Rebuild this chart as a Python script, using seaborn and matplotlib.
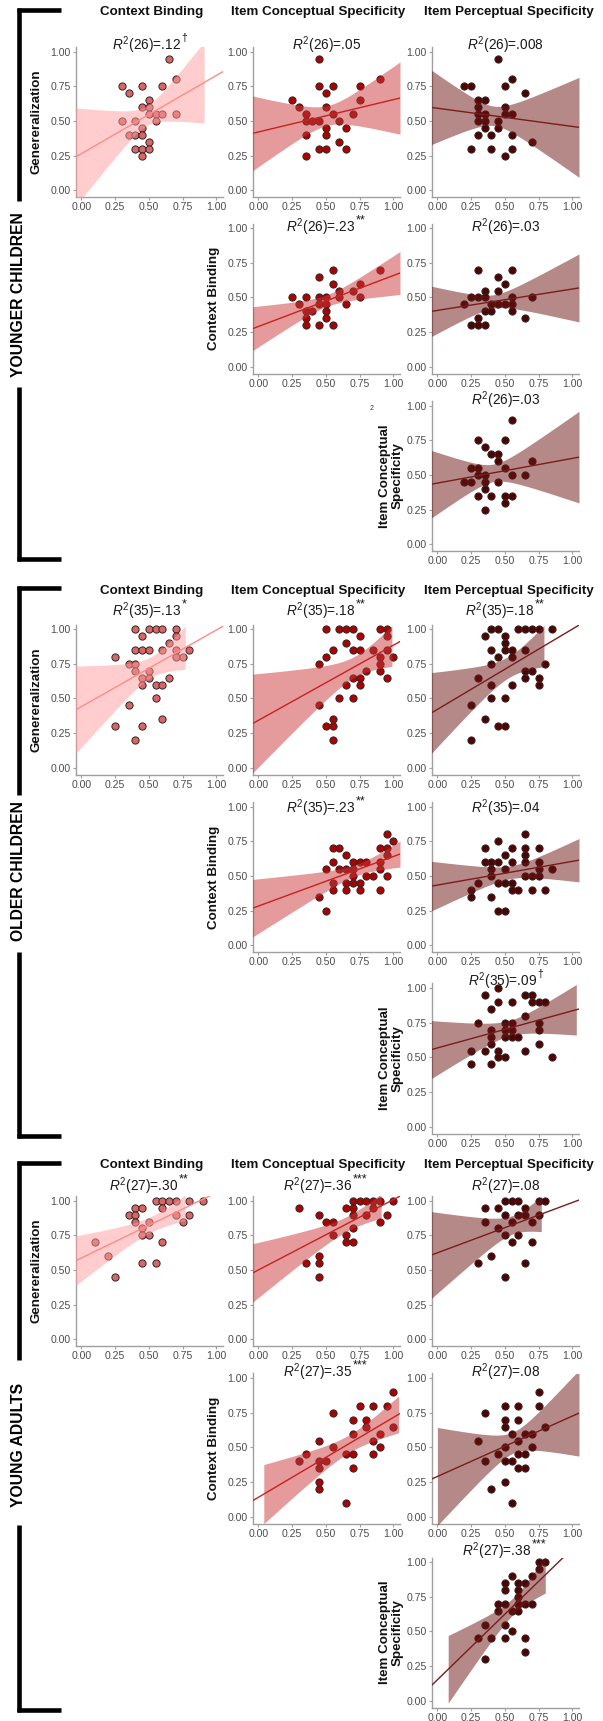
import numpy as np
import matplotlib
matplotlib.use("Agg")
import matplotlib.pyplot as plt
import seaborn as sns

# ---- data ----
# Younger children
yc_r1c1_x = [0.65, 0.30, 0.35, 0.70, 0.45, 0.60, 0.50, 0.45, 0.50, 0.50, 0.55, 0.60, 0.70, 0.30, 0.40, 0.55, 0.45, 0.35, 0.40, 0.45, 0.50, 0.40, 0.45, 0.50, 0.45]
yc_r1c1_y = [0.95, 0.75, 0.70, 0.80, 0.75, 0.75, 0.65, 0.60, 0.60, 0.55, 0.55, 0.55, 0.55, 0.50, 0.50, 0.50, 0.45, 0.40, 0.40, 0.40, 0.35, 0.30, 0.30, 0.30, 0.25]
yc_r1c2_x = [0.45, 0.90, 0.45, 0.55, 0.75, 0.50, 0.75, 0.25, 0.30, 0.50, 0.35, 0.55, 0.70, 0.35, 0.40, 0.45, 0.60, 0.50, 0.65, 0.35, 0.50, 0.60, 0.45, 0.50, 0.65, 0.35]
yc_r1c2_y = [0.95, 0.80, 0.75, 0.75, 0.75, 0.70, 0.65, 0.65, 0.60, 0.60, 0.55, 0.55, 0.55, 0.50, 0.50, 0.50, 0.50, 0.45, 0.45, 0.40, 0.40, 0.35, 0.30, 0.30, 0.30, 0.25]
yc_r1c3_x = [0.45, 0.55, 0.20, 0.25, 0.50, 0.65, 0.35, 0.30, 0.30, 0.50, 0.30, 0.35, 0.50, 0.55, 0.30, 0.35, 0.45, 0.35, 0.45, 0.30, 0.40, 0.55, 0.70, 0.25, 0.40, 0.55, 0.50]
yc_r1c3_y = [0.95, 0.80, 0.75, 0.75, 0.75, 0.70, 0.65, 0.65, 0.60, 0.60, 0.55, 0.55, 0.55, 0.55, 0.50, 0.50, 0.50, 0.45, 0.45, 0.40, 0.40, 0.40, 0.35, 0.30, 0.30, 0.30, 0.25]
yc_r2c2_x = [0.55, 0.90, 0.45, 0.55, 0.75, 0.60, 0.70, 0.25, 0.35, 0.45, 0.50, 0.60, 0.75, 0.30, 0.45, 0.50, 0.65, 0.35, 0.40, 0.50, 0.35, 0.50, 0.35, 0.45, 0.55]
yc_r2c2_y = [0.70, 0.70, 0.65, 0.60, 0.60, 0.55, 0.55, 0.50, 0.50, 0.50, 0.50, 0.50, 0.50, 0.45, 0.45, 0.45, 0.45, 0.40, 0.40, 0.40, 0.35, 0.35, 0.30, 0.30, 0.30]
yc_r2c3_x = [0.30, 0.55, 0.45, 0.50, 0.35, 0.45, 0.25, 0.30, 0.35, 0.55, 0.70, 0.20, 0.40, 0.45, 0.50, 0.55, 0.35, 0.40, 0.55, 0.30, 0.65, 0.25, 0.30, 0.35]
yc_r2c3_y = [0.70, 0.70, 0.65, 0.60, 0.55, 0.55, 0.50, 0.50, 0.50, 0.50, 0.50, 0.45, 0.45, 0.45, 0.45, 0.45, 0.40, 0.40, 0.40, 0.35, 0.35, 0.30, 0.30, 0.30]
yc_r3c3_x = [0.55, 0.30, 0.50, 0.35, 0.40, 0.45, 0.45, 0.70, 0.25, 0.30, 0.50, 0.30, 0.35, 0.55, 0.65, 0.20, 0.25, 0.35, 0.45, 0.35, 0.30, 0.40, 0.50, 0.55, 0.50, 0.35]
yc_r3c3_y = [0.90, 0.75, 0.75, 0.70, 0.65, 0.65, 0.60, 0.60, 0.55, 0.55, 0.55, 0.50, 0.50, 0.50, 0.50, 0.45, 0.45, 0.45, 0.45, 0.40, 0.35, 0.35, 0.35, 0.35, 0.30, 0.25]

# Older children
oc_r1c1_x = [0.40, 0.50, 0.55, 0.60, 0.70, 0.45, 0.70, 0.65, 0.40, 0.45, 0.50, 0.60, 0.70, 0.80, 0.25, 0.70, 0.75, 0.35, 0.40, 0.40, 0.50, 0.45, 0.50, 0.65, 0.45, 0.55, 0.60, 0.55, 0.35, 0.60, 0.25, 0.45, 0.40]
oc_r1c1_y = [1.00, 1.00, 1.00, 1.00, 1.00, 0.95, 0.95, 0.90, 0.85, 0.85, 0.85, 0.85, 0.85, 0.85, 0.80, 0.80, 0.80, 0.75, 0.75, 0.70, 0.70, 0.65, 0.65, 0.65, 0.60, 0.60, 0.60, 0.50, 0.45, 0.35, 0.30, 0.30, 0.20]
oc_r1c2_x = [0.50, 0.60, 0.65, 0.70, 0.90, 0.95, 0.95, 0.75, 0.65, 0.55, 0.70, 0.75, 0.85, 0.95, 0.50, 0.90, 1.00, 0.45, 0.90, 0.90, 0.80, 0.70, 0.75, 0.95, 0.65, 0.75, 0.60, 0.70, 0.45, 0.55, 0.50, 0.55, 0.55]
oc_r1c2_y = [1.00, 1.00, 1.00, 1.00, 1.00, 1.00, 0.95, 0.95, 0.90, 0.85, 0.85, 0.85, 0.85, 0.85, 0.80, 0.80, 0.80, 0.75, 0.75, 0.70, 0.70, 0.65, 0.65, 0.65, 0.60, 0.60, 0.50, 0.50, 0.45, 0.35, 0.30, 0.30, 0.20]
oc_r1c3_x = [0.40, 0.45, 0.60, 0.65, 0.70, 0.75, 0.85, 0.35, 0.50, 0.50, 0.40, 0.50, 0.55, 0.65, 0.45, 0.55, 0.40, 0.80, 0.65, 0.70, 0.30, 0.65, 0.75, 0.40, 0.55, 0.75, 0.40, 0.50, 0.25, 0.35, 0.45, 0.50, 0.25]
oc_r1c3_y = [1.00, 1.00, 1.00, 1.00, 1.00, 1.00, 1.00, 0.95, 0.95, 0.90, 0.85, 0.85, 0.85, 0.85, 0.80, 0.80, 0.75, 0.75, 0.70, 0.70, 0.65, 0.65, 0.65, 0.60, 0.60, 0.60, 0.50, 0.50, 0.45, 0.35, 0.30, 0.30, 0.20]
oc_r2c2_x = [0.95, 1.00, 0.55, 0.60, 0.90, 0.95, 0.65, 0.95, 0.55, 0.70, 0.75, 0.80, 0.90, 0.50, 0.60, 0.65, 0.70, 0.90, 0.70, 0.80, 0.85, 0.95, 0.55, 0.65, 0.70, 0.75, 0.55, 0.65, 0.75, 0.90, 0.45, 0.50]
oc_r2c2_y = [0.80, 0.75, 0.70, 0.70, 0.70, 0.70, 0.65, 0.65, 0.60, 0.60, 0.60, 0.60, 0.60, 0.55, 0.55, 0.55, 0.55, 0.55, 0.50, 0.50, 0.50, 0.50, 0.45, 0.45, 0.45, 0.45, 0.40, 0.40, 0.40, 0.40, 0.35, 0.25]
oc_r2c3_x = [0.65, 0.45, 0.35, 0.55, 0.65, 0.75, 0.50, 0.65, 0.35, 0.40, 0.45, 0.55, 0.65, 0.75, 0.40, 0.50, 0.75, 0.85, 0.40, 0.65, 0.70, 0.75, 0.30, 0.45, 0.50, 0.55, 0.25, 0.55, 0.60, 0.70, 0.80, 0.25, 0.40, 0.45, 0.50]
oc_r2c3_y = [0.80, 0.75, 0.70, 0.70, 0.70, 0.70, 0.65, 0.65, 0.60, 0.60, 0.60, 0.60, 0.60, 0.60, 0.55, 0.55, 0.55, 0.55, 0.50, 0.50, 0.50, 0.50, 0.45, 0.45, 0.45, 0.45, 0.40, 0.40, 0.40, 0.40, 0.40, 0.35, 0.35, 0.25, 0.25]
oc_r3c3_x = [0.45, 0.35, 0.65, 0.70, 0.45, 0.55, 0.70, 0.75, 0.80, 0.40, 0.65, 0.30, 0.50, 0.55, 0.75, 0.40, 0.50, 0.55, 0.75, 0.40, 0.50, 0.55, 0.60, 0.40, 0.75, 0.25, 0.35, 0.45, 0.65, 0.45, 0.50, 0.85, 0.25, 0.40]
oc_r3c3_y = [1.00, 0.95, 0.95, 0.95, 0.90, 0.90, 0.90, 0.90, 0.90, 0.85, 0.80, 0.75, 0.75, 0.75, 0.75, 0.70, 0.70, 0.70, 0.70, 0.65, 0.65, 0.65, 0.65, 0.60, 0.60, 0.55, 0.55, 0.55, 0.55, 0.50, 0.50, 0.50, 0.45, 0.45]

# Young adults
ya_r1c1_x = [0.90, 0.80, 0.55, 0.60, 0.65, 0.70, 0.40, 0.45, 0.60, 0.35, 0.40, 0.70, 0.80, 0.40, 0.50, 0.75, 0.45, 0.45, 0.50, 0.10, 0.60, 0.20, 0.45, 0.55, 0.25]
ya_r1c1_y = [1.00, 1.00, 1.00, 1.00, 1.00, 1.00, 0.95, 0.95, 0.95, 0.90, 0.90, 0.90, 0.90, 0.85, 0.85, 0.85, 0.80, 0.75, 0.75, 0.70, 0.70, 0.60, 0.55, 0.55, 0.45]
ya_r1c2_x = [1.00, 0.70, 0.75, 0.80, 0.85, 0.90, 0.30, 0.65, 0.70, 0.85, 0.45, 0.70, 0.80, 0.95, 0.50, 0.55, 0.90, 0.70, 0.55, 0.65, 0.65, 0.70, 0.45, 0.35, 0.45, 0.45]
ya_r1c2_y = [1.00, 1.00, 1.00, 1.00, 1.00, 1.00, 0.95, 0.95, 0.95, 0.95, 0.90, 0.90, 0.90, 0.90, 0.85, 0.85, 0.85, 0.80, 0.75, 0.75, 0.70, 0.70, 0.60, 0.55, 0.55, 0.45]
ya_r1c3_x = [0.50, 0.55, 0.60, 0.75, 0.80, 0.35, 0.45, 0.65, 0.50, 0.60, 0.65, 0.75, 0.35, 0.55, 0.70, 0.45, 0.50, 0.60, 0.55, 0.70, 0.40, 0.30, 0.65, 0.50]
ya_r1c3_y = [1.00, 1.00, 1.00, 1.00, 1.00, 0.95, 0.95, 0.95, 0.90, 0.90, 0.90, 0.90, 0.85, 0.85, 0.85, 0.80, 0.75, 0.75, 0.70, 0.70, 0.60, 0.55, 0.55, 0.45]
ya_r2c2_x = [1.00, 0.75, 0.85, 0.95, 0.55, 0.70, 0.80, 0.80, 1.00, 0.70, 0.90, 0.45, 0.85, 0.55, 0.90, 0.35, 0.65, 0.70, 0.85, 0.30, 0.45, 0.50, 0.45, 0.70, 0.45, 0.45, 0.65]
ya_r2c2_y = [0.90, 0.80, 0.80, 0.80, 0.75, 0.70, 0.70, 0.65, 0.65, 0.60, 0.60, 0.55, 0.55, 0.50, 0.50, 0.45, 0.45, 0.45, 0.45, 0.40, 0.40, 0.40, 0.35, 0.35, 0.25, 0.20, 0.10]
ya_r2c3_x = [0.75, 0.50, 0.60, 0.75, 0.35, 0.50, 0.60, 0.50, 0.80, 0.55, 0.65, 0.70, 0.30, 0.60, 0.50, 0.70, 0.45, 0.60, 0.65, 0.35, 0.50, 0.55, 0.60, 0.65, 0.50, 0.40, 0.55]
ya_r2c3_y = [0.90, 0.80, 0.80, 0.80, 0.75, 0.70, 0.70, 0.65, 0.65, 0.60, 0.60, 0.60, 0.55, 0.55, 0.50, 0.50, 0.45, 0.45, 0.45, 0.40, 0.40, 0.40, 0.35, 0.35, 0.25, 0.20, 0.10]
ya_r3c3_x = [0.75, 0.80, 0.75, 0.70, 0.55, 0.50, 0.60, 0.65, 0.50, 0.60, 0.60, 0.45, 0.50, 0.60, 0.65, 0.70, 0.45, 0.55, 0.60, 0.35, 0.50, 0.55, 0.30, 0.40, 0.50, 0.65, 0.65, 0.35]
ya_r3c3_y = [1.00, 1.00, 0.95, 0.90, 0.90, 0.85, 0.85, 0.85, 0.80, 0.80, 0.75, 0.70, 0.70, 0.70, 0.70, 0.70, 0.65, 0.65, 0.65, 0.55, 0.55, 0.50, 0.45, 0.45, 0.45, 0.45, 0.35, 0.30]

groups = ["YOUNGER CHILDREN", "OLDER CHILDREN", "YOUNG ADULTS"]
col_titles = ["Context Binding", "Item Conceptual Specificity", "Item Perceptual Specificity"]
row_labels = ["Genereralization", "Context Binding", "Item Conceptual\nSpecificity"]

# (group, row, col, x, y, df, R2, stars, band x-range)
panels = [
    (0, 0, 0, yc_r1c1_x, yc_r1c1_y, 26, ".12", "\u2020", (-0.05, 0.91)),
    (0, 0, 1, yc_r1c2_x, yc_r1c2_y, 26, ".05", "", (-0.05, 1.05)),
    (0, 0, 2, yc_r1c3_x, yc_r1c3_y, 26, ".008", "", (-0.05, 1.05)),
    (0, 1, 1, yc_r2c2_x, yc_r2c2_y, 26, ".23", "**", (-0.05, 1.05)),
    (0, 1, 2, yc_r2c3_x, yc_r2c3_y, 26, ".03", "", (-0.05, 1.05)),
    (0, 2, 2, yc_r3c3_x, yc_r3c3_y, 26, ".03", "", (-0.05, 1.05)),
    (1, 0, 0, oc_r1c1_x, oc_r1c1_y, 35, ".13", "*", (-0.05, 0.77)),
    (1, 0, 1, oc_r1c2_x, oc_r1c2_y, 35, ".18", "**", (-0.05, 0.99)),
    (1, 0, 2, oc_r1c3_x, oc_r1c3_y, 35, ".18", "**", (-0.05, 0.79)),
    (1, 1, 1, oc_r2c2_x, oc_r2c2_y, 35, ".23", "**", (-0.05, 1.05)),
    (1, 1, 2, oc_r2c3_x, oc_r2c3_y, 35, ".04", "", (-0.05, 1.05)),
    (1, 2, 2, oc_r3c3_x, oc_r3c3_y, 35, ".09", "\u2020", (-0.05, 1.03)),
    (2, 0, 0, ya_r1c1_x, ya_r1c1_y, 27, ".30", "**", (-0.05, 0.77)),
    (2, 0, 1, ya_r1c2_x, ya_r1c2_y, 27, ".36", "***", (-0.05, 0.91)),
    (2, 0, 2, ya_r1c3_x, ya_r1c3_y, 27, ".08", "", (-0.05, 0.77)),
    (2, 1, 1, ya_r2c2_x, ya_r2c2_y, 27, ".35", "***", (0.04, 1.04)),
    (2, 1, 2, ya_r2c3_x, ya_r2c3_y, 27, ".08", "", (0.0, 1.05)),
    (2, 2, 2, ya_r3c3_x, ya_r3c3_y, 27, ".38", "***", (0.08, 0.80)),
]

# point fill, line, band colour per x-variable column
COLORS = [("#DD6464", "#FF8A8A", "#FF9C9C"),
          ("#AE0000", "#CC2020", "#CC3838"),
          ("#520000", "#7A1C1C", "#6E1414")]

sns.set_style("white")
plt.rcParams['font.family'] = ['Liberation Sans', 'DejaVu Sans']
plt.rcParams['mathtext.fontset'] = 'custom'
plt.rcParams['mathtext.rm'] = 'Liberation Sans'
plt.rcParams['mathtext.it'] = 'Liberation Sans:italic'
plt.rcParams['mathtext.bf'] = 'Liberation Sans:bold'

W, H = 603, 1721
fig = plt.figure(figsize=(W / 100, H / 100), dpi=100)
renderer = fig.canvas.get_renderer()

# overlay in pixel coords for brackets and labels
ov = fig.add_axes([0, 0, 1, 1])
ov.set_xlim(0, W)
ov.set_ylim(H, 0)
ov.axis("off")

XLIM = (-0.04, 1.05)
YLIM = (-0.05, 1.035)
col_left = [76, 253, 432]
row_top = [[47, 223.5, 401], [624.5, 802, 983.5], [1196, 1373.5, 1557.5]]
title_y = [[45, 227, 400], [611, 808, 981], [1186, 1372, 1551]]
header_y = [12, 591, 1165]
header_x = [152, 318, 509]
ylab_x = [37, 214, 391]
ax_w, ax_h = 147, 150


def t_crit(df):
    z = 1.959964
    return z + (z**3 + z) / (4 * df) + (5 * z**5 + 16 * z**3 + 3 * z) / (96 * df**2)


def draw_panel(ax, x, y, col, band):
    pt, line, fill = COLORS[col]
    x = np.asarray(x)
    y = np.asarray(y)
    ax.set_xlim(*XLIM)
    ax.set_ylim(*YLIM)
    sns.scatterplot(x=x, y=y, ax=ax, color=pt, edgecolor="#2a2a2a",
                    linewidth=0.7, s=27, zorder=2, legend=False)
    # 95% CI of the linear fit
    n = len(x)
    b, a = np.polyfit(x, y, 1)
    resid = y - (a + b * x)
    s = np.sqrt(np.sum(resid**2) / (n - 2))
    sxx = np.sum((x - x.mean())**2)
    xs = np.linspace(band[0], band[1], 200)
    se = s * np.sqrt(1 / n + (xs - x.mean())**2 / sxx)
    yh = a + b * xs
    tc = t_crit(n - 2)
    ax.fill_between(xs, yh - tc * se, yh + tc * se, color=fill, alpha=0.5,
                    lw=0, zorder=3)
    sns.regplot(x=x, y=y, ax=ax, scatter=False, ci=None, truncate=False,
                color=line, line_kws={"lw": 1.0, "zorder": 4})
    ax.set_xlim(*XLIM)
    ax.set_ylim(*YLIM)
    ticks = [0, 0.25, 0.5, 0.75, 1.0]
    labels = ["0.00", "0.25", "0.50", "0.75", "1.00"]
    ax.set_xticks(ticks)
    ax.set_yticks(ticks)
    ax.set_xticklabels(labels)
    ax.set_yticklabels(labels)
    ax.set_xlabel("")
    ax.set_ylabel("")
    for side in ["top", "right"]:
        ax.spines[side].set_visible(False)
    for side in ["left", "bottom"]:
        ax.spines[side].set_color("#a0a0a0")
        ax.spines[side].set_linewidth(1.0)
    ax.tick_params(length=2.5, width=0.8, color="#a0a0a0", labelsize=7.6,
                   labelcolor="#4d4d4d", pad=1.2, left=True, bottom=True)
    ax.patch.set_alpha(0)


for g, r, c, x, y, df, r2, stars, band in panels:
    top = row_top[g][r]
    left = col_left[c]
    ax = fig.add_axes([left / W, 1 - (top + ax_h) / H, ax_w / W, ax_h / H])
    draw_panel(ax, x, y, c, band)
    title = r"$\mathit{R}^2$(%d)=%s" % (df, r2)
    shift = 3 * len(stars)
    t = ov.text(left + ax_w / 2 - shift, title_y[g][r], title, fontsize=9.8,
                ha="center", va="center", color="#1a1a1a")
    if stars:
        bb = t.get_window_extent(renderer)
        size = 7.5 if stars == "\u2020" else 9
        ov.text(bb.x1 + 0.3, H - bb.y1 - 1.5, stars, fontsize=size,
                ha="left", va="top", color="#1a1a1a")

for g in range(3):
    for c in range(3):
        ov.text(header_x[c], header_y[g], col_titles[c], fontsize=9.6,
                fontweight="bold", ha="center", va="center", color="#111111")
    # row labels
    for r in range(3):
        cy = row_top[g][r] + ax_h / 2
        ov.text(ylab_x[r], cy, row_labels[r], fontsize=9.6, fontweight="bold",
                rotation=90, ha="center", va="center", color="#111111",
                linespacing=1.1)

# stray superscript in the first group
ov.text(372, 408, "2", fontsize=5, ha="center", va="center", color="#333333")

# group brackets: top, label start, label end, bottom, label centre
brackets = [(10, 201, 387, 559, 295), (588, 795, 952, 1136, 871),
            (1163, 1360, 1525, 1710, 1445)]
for (top, l0, l1, bot, cy), name in zip(brackets, groups):
    kw = dict(color="black", lw=3.3, solid_capstyle="butt")
    ov.plot([16.8, 61], [top, top], **kw)
    ov.plot([19, 19], [top - 2, l0], **kw)
    ov.plot([19, 19], [l1, bot + 2], **kw)
    ov.plot([16.8, 61], [bot, bot], **kw)
    ov.text(19, cy, name, fontsize=11.3, fontweight="bold", rotation=90,
            ha="center", va="center", color="black")

fig.savefig("out.png", dpi=100)
